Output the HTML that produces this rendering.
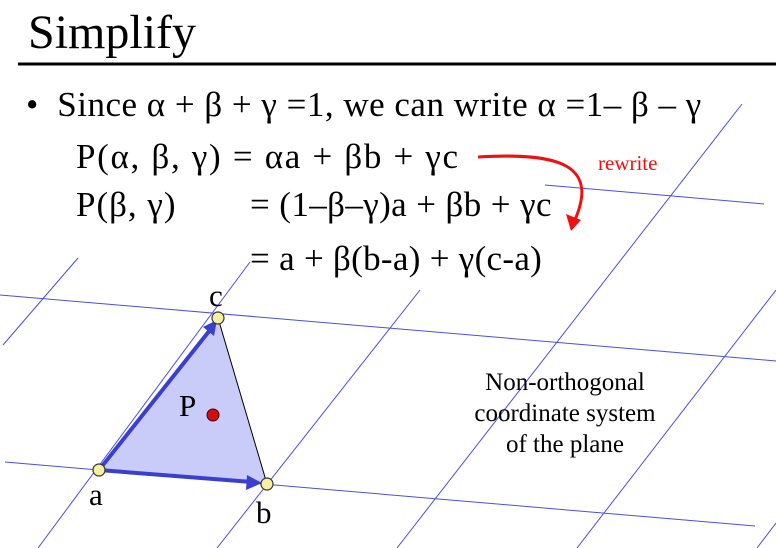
<!DOCTYPE html>
<html><head><meta charset="utf-8"><style>
html,body{margin:0;padding:0;background:#fff}
body{width:776px;height:548px;position:relative;overflow:hidden;font-family:"Liberation Serif",serif;color:#000}
.t{position:absolute;white-space:nowrap;line-height:1}
</style></head><body>
<svg width="776" height="548" style="position:absolute;left:0;top:0">
<g stroke="#4a4fe0" stroke-width="1">
<line x1="0" y1="295" x2="776" y2="361"/>
<line x1="5" y1="462" x2="755" y2="526"/>
<line x1="545" y1="185" x2="764" y2="204"/>
<line x1="3" y1="345" x2="78" y2="258"/>
<line x1="38" y1="548" x2="250" y2="262"/>
<line x1="217" y1="548" x2="420" y2="290"/>
<line x1="397" y1="548" x2="742" y2="104"/>
<line x1="577" y1="548" x2="776" y2="290"/>
<line x1="757" y1="548" x2="776" y2="523"/>
</g>
<polygon points="99,470 267,484 218,318" fill="#c9ccf8" stroke="#000" stroke-width="1"/>
<g stroke="#3a3fd0" stroke-width="4" fill="#3a3fd0">
<line x1="99" y1="470" x2="252" y2="482"/>
<polygon points="262,483 247,475 246,490" stroke="none"/>
<line x1="99" y1="470" x2="210" y2="330"/>
<polygon points="217,320 203,327 214,336" stroke="none"/>
</g>
<g fill="#f6f0a0" stroke="#333" stroke-width="1.2">
<circle cx="99" cy="470" r="6"/>
<circle cx="267" cy="484" r="6"/>
<circle cx="218" cy="318" r="6"/>
</g>
<circle cx="213" cy="415" r="6" fill="#d01010" stroke="#400" stroke-width="1"/>
<line x1="18" y1="64" x2="776" y2="64" stroke="#000" stroke-width="3"/>
<path d="M478,157 C560,152 600,165 574,222" fill="none" stroke="#ee1010" stroke-width="3"/>
<polygon points="571,231 566,214 581,220" fill="#ee1010"/>
</svg>
<div class="t" style="left:28px;top:9px;font-size:48px">Simplify</div>
<div class="t" style="left:26px;top:87px;font-size:35px;letter-spacing:0.5px">•&nbsp; Since α + β + γ =1, we can write α =1– β – γ</div>
<div class="t" style="left:76px;top:139px;font-size:35px;letter-spacing:1.7px">P(α, β, γ) = αa + βb + γc</div>
<div class="t" style="left:76px;top:187px;font-size:35px;letter-spacing:1px">P(β, γ)</div>
<div class="t" style="left:250px;top:187px;font-size:35px;letter-spacing:0.4px">= (1–β–γ)a + βb + γc</div>
<div class="t" style="left:250px;top:241px;font-size:35px;letter-spacing:0.3px">= a + β(b-a) + γ(c-a)</div>
<div class="t" style="left:598px;top:153px;font-size:21px;color:#ee1010">rewrite</div>
<div class="t" style="left:209px;top:280px;font-size:31px">c</div>
<div class="t" style="left:89px;top:479px;font-size:31px">a</div>
<div class="t" style="left:256px;top:497px;font-size:31px">b</div>
<div class="t" style="left:179px;top:390px;font-size:31px">P</div>
<div class="t" style="left:445px;top:367px;width:240px;text-align:center;font-size:25px;line-height:31px;white-space:normal">Non-orthogonal<br>coordinate system<br>of the plane</div>
</body></html>
